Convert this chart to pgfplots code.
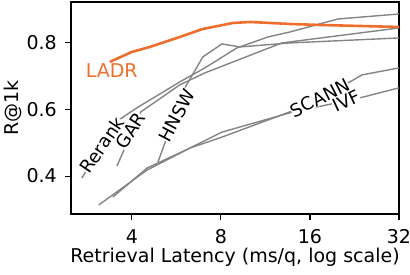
\documentclass[border=0pt]{standalone}
\usepackage{pgfplots}
\pgfplotsset{compat=1.18}
\usepackage{fontspec}
\setmainfont{DejaVu Sans}
\definecolor{ladr}{RGB}{238,111,45}
\definecolor{lg}{RGB}{132,132,132}
\begin{document}
\fontsize{19}{22}\selectfont
\begin{tikzpicture}
\begin{axis}[
 name=ax,
 scale only axis, width=328pt, height=212pt,
 xmode=log, log basis x=2, xmin=2.49, xmax=32, ymin=0.286, ymax=0.923,
 xtick={4,8,16,32}, xticklabels={4,8,16,32},
 ytick={0.4,0.6,0.8}, yticklabels={0.4,0.6,0.8},
 tick align=outside, tick pos=left, major tick length=6pt,
 every tick/.style={black, line width=1.1pt},
 axis line style={line width=1.1pt},
 /pgf/number format/assume math mode=true,
 xlabel={Retrieval Latency (ms/q, log scale)}, ylabel={R@1k},
 tick label style={font=\fontsize{19}{22}\selectfont},
 label style={font=\fontsize{19}{22}\selectfont},
 xticklabel style={anchor=base, inner sep=0pt, yshift=-23.3pt},
 yticklabel style={anchor=east, inner sep=0pt, xshift=-8pt},
 xlabel style={at={([yshift=-48.7pt]axis description cs:0.5,0)}, anchor=base, inner sep=0pt},
 ylabel style={at={([xshift=-52.7pt]axis description cs:0,0.5)}, anchor=base, inner sep=0pt},
 clip=true,
]
% Rerank
\addplot[lg, line width=1.4pt, line join=round] coordinates {
(2.71,0.394) (3.56,0.565) (4.16,0.605) (5.81,0.683) (7.06,0.725) (9.06,0.785) (11.54,0.818) (13.69,0.833) (19.9,0.872) (32,0.887)};
% GAR
\addplot[lg, line width=1.4pt, line join=round] coordinates {
(3.56,0.430) (4.29,0.593) (5.81,0.674) (7.06,0.710) (12.86,0.800) (32,0.845)};
% HNSW
\addplot[lg, line width=1.4pt, line join=round] coordinates {
(4.90,0.442) (6.04,0.665) (6.95,0.758) (8.06,0.797) (9.28,0.788) (13.69,0.800) (32,0.815)};
% SCANN
\addplot[lg, line width=1.4pt, line join=round] coordinates {
(3.09,0.313) (4.50,0.418) (6.28,0.484) (8.06,0.532) (13.69,0.590) (21.85,0.683) (23.99,0.704) (32,0.725)};
% IVF
\addplot[lg, line width=1.4pt, line join=round] coordinates {
(3.45,0.337) (4.50,0.424) (6.28,0.484) (8.06,0.517) (13.69,0.593) (16.38,0.605) (23.6,0.635) (32,0.665)};
% LADR
\addplot[ladr, line width=2.6pt, line join=round] coordinates {
(3.37,0.743) (4.0,0.773) (4.60,0.788) (5.81,0.818) (6.95,0.842) (8.78,0.860) (10.03,0.863) (13.69,0.857) (17.3,0.854) (32,0.848)};
\node[text=ladr] at (axis cs:3.42,0.716) {LADR};
\begin{scope}[every node/.style={fill=white, inner sep=0pt, font=\fontsize{18}{20}\selectfont}]
\node[rotate=56] at (axis cs:3.17,0.493) {Rerank};
\node[rotate=57] at (axis cs:3.96,0.536) {GAR};
\node[rotate=62] at (axis cs:5.68,0.583) {HNSW};
\node[rotate=27] at (axis cs:17.3,0.635) {SCANN};
\node[rotate=25] at (axis cs:21.2,0.626) {IVF};
\end{scope}
\end{axis}
\pgfresetboundingbox
\path[use as bounding box] ([xshift=-71pt,yshift=-60pt]ax.south west) rectangle ([xshift=11pt,yshift=2pt]ax.north east);
\end{tikzpicture}
\end{document}
